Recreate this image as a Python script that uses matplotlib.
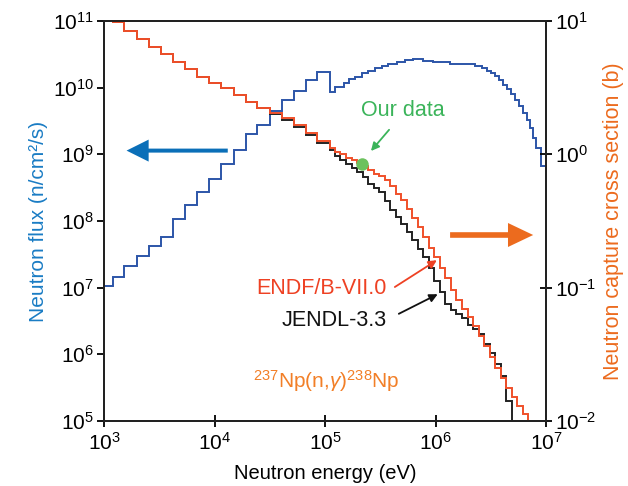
import numpy as np
import matplotlib
matplotlib.use("Agg")
import matplotlib.pyplot as plt
from matplotlib.ticker import LogLocator, NullLocator, FuncFormatter

plt.rcParams['font.family'] = ['Liberation Sans', 'DejaVu Sans']
plt.rcParams['mathtext.fontset'] = 'custom'
plt.rcParams['mathtext.rm'] = 'Liberation Sans'
plt.rcParams['mathtext.it'] = 'Liberation Sans:italic'
plt.rcParams['mathtext.default'] = 'regular'

# bin edges, log10(energy / eV)
log_e_low = [3.000, 3.077, 3.184, 3.296, 3.407, 3.516, 3.624, 3.735, 3.844, 3.953,
             4.063, 4.172, 4.281, 4.389, 4.502, 4.608, 4.715, 4.828, 4.932, 5.045]
log_e_flux_high = [5.090, 5.172, 5.220, 5.271, 5.332, 5.392, 5.452, 5.513, 5.573, 5.649,
                   5.724, 5.799, 5.890, 5.980, 6.041, 6.131, 6.249, 6.357, 6.421, 6.466,
                   6.502, 6.538, 6.575, 6.611, 6.647, 6.683, 6.719, 6.756, 6.792, 6.828,
                   6.855, 6.882, 6.914, 6.955, 7.000]
log_e_xs_high = [5.09, 5.14, 5.19, 5.24, 5.29, 5.34, 5.39, 5.44, 5.49, 5.54,
                 5.59, 5.64, 5.69, 5.74, 5.79, 5.84, 5.89, 5.94, 5.99, 6.04,
                 6.09, 6.14, 6.19, 6.24, 6.29, 6.34, 6.39, 6.44, 6.49, 6.54,
                 6.59, 6.64, 6.69, 6.74, 6.79, 6.84, 6.89, 6.94, 7.00]

# log10 neutron flux (n/cm2/s)
log_flux = [7.018, 7.153, 7.325, 7.475, 7.630, 7.753, 8.023, 8.245, 8.431, 8.633,
            8.855, 9.058, 9.298, 9.440, 9.646, 9.820, 9.955, 10.120, 10.240,
            9.940, 10.015, 10.075, 10.125, 10.165, 10.215, 10.255, 10.290, 10.330, 10.355,
            10.390, 10.415, 10.425, 10.405, 10.380, 10.378, 10.360, 10.348, 10.325, 10.295,
            10.255, 10.220, 10.168, 10.115, 10.040, 9.980, 9.905, 9.815, 9.725, 9.620,
            9.515, 9.395, 9.245, 9.095, 8.825]

# log10 capture cross section (b)
log_endf = [1.06, 0.990, 0.925, 0.863, 0.803, 0.750, 0.694, 0.640, 0.582, 0.533,
            0.494, 0.445, 0.395, 0.350, 0.312, 0.270, 0.220, 0.162, 0.100,
            0.05, 0.02, 0.00, -0.025, -0.045, -0.065, -0.09, -0.12, -0.145, -0.165,
            -0.195, -0.24, -0.30, -0.345, -0.41, -0.475, -0.545, -0.62, -0.70, -0.77,
            -0.85, -0.93, -1.02, -1.09, -1.16, -1.22, -1.29, -1.36, -1.44, -1.52,
            -1.60, -1.68, -1.75, -1.82, -1.89, -1.95, -2.10, -2.2, -2.3]
log_jendl = [1.06, 0.990, 0.925, 0.863, 0.803, 0.750, 0.694, 0.640, 0.582, 0.533,
             0.494, 0.445, 0.395, 0.345, 0.300, 0.2575, 0.203, 0.145, 0.083,
             0.03, -0.01, -0.045, -0.075, -0.105, -0.135, -0.17, -0.22, -0.255, -0.285,
             -0.35, -0.42, -0.47, -0.525, -0.58, -0.645, -0.71, -0.77, -0.85, -0.95,
             -1.03, -1.12, -1.17, -1.20, -1.23, -1.28, -1.31, -1.35, -1.42, -1.49,
             -1.57, -1.66, -1.85, -2.1, -2.2, -2.3, -2.4, -2.5, -2.6]

our_energy = 2.15e5
our_xs = 0.85

flux_edges = 10 ** np.array(log_e_low + log_e_flux_high)
xs_edges = 10 ** np.array(log_e_low + log_e_xs_high)

c_flux = '#2c55a8'
c_flux_txt = '#1a7cc4'
c_endf = '#f0502a'
c_orange = '#ec6b1e'
c_green = '#3bb45a'

fig = plt.figure(figsize=(6.28, 4.86), dpi=100)
ax = fig.add_axes([104 / 628, 1 - 421 / 486, 442 / 628, 400 / 486])
ax2 = ax.twinx()

ax.stairs(10 ** np.array(log_flux), flux_edges, baseline=None, color=c_flux, lw=1.4)
ax2.stairs(10 ** np.array(log_jendl), xs_edges, baseline=None, color='#222222', lw=1.4)
ax2.stairs(10 ** np.array(log_endf), xs_edges, baseline=None, color=c_endf, lw=1.4)
ax2.plot([our_energy], [our_xs], 'o', color='#6cc25e', ms=9, mec='none', zorder=5)

ax.set_xscale('log')
ax.set_yscale('log')
ax2.set_yscale('log')
ax.set_xlim(1e3, 1e7)
ax.set_ylim(1e5, 1e11)
ax2.set_ylim(1e-2, 1e1)


def pow_fmt(v, pos):
    return r'$10^{%d}$' % int(round(np.log10(v)))


for a in (ax, ax2):
    for s in a.spines.values():
        s.set_linewidth(1.4)
        s.set_color('#222222')
ax.xaxis.set_major_locator(LogLocator(base=10, numticks=10))
ax.xaxis.set_minor_locator(NullLocator())
ax.yaxis.set_minor_locator(NullLocator())
ax2.yaxis.set_minor_locator(NullLocator())
ax.xaxis.set_major_formatter(FuncFormatter(pow_fmt))
ax.yaxis.set_major_formatter(FuncFormatter(pow_fmt))
ax2.yaxis.set_major_formatter(FuncFormatter(pow_fmt))
ax.tick_params(axis='x', direction='inout', length=9, width=1.3, labelsize=15, pad=3)
ax.tick_params(axis='y', direction='out', length=5, width=1.3, labelsize=15, pad=2)
ax2.tick_params(axis='y', direction='inout', length=9, width=1.3, labelsize=15, pad=2)

ax.set_xlabel('Neutron energy (eV)', fontsize=14.5, labelpad=8)
ax.set_ylabel('Neutron flux (n/cm²/s)', fontsize=15, color=c_flux_txt, labelpad=4)
ax2.set_ylabel('Neutron capture cross section (b)', fontsize=15.5, color=c_orange,
               rotation=90, labelpad=5)

# direction arrows
ax.arrow(0.280, 0.676, -0.229, 0, transform=ax.transAxes, width=0.010,
         head_width=0.055, head_length=0.05, length_includes_head=True,
         color='#0b6fb8', lw=0)
ax.arrow(0.783, 0.465, 0.188, 0, transform=ax.transAxes, width=0.014,
         head_width=0.06, head_length=0.057, length_includes_head=True,
         color=c_orange, lw=0)

# annotations
arrow_kw = dict(arrowstyle='-|>', lw=1.3, shrinkA=0, shrinkB=0, mutation_scale=12)
ax2.text(0.675, 0.775, 'Our data', transform=ax2.transAxes, fontsize=15.5,
         color=c_green, ha='center', va='center')
ax2.annotate('', xy=(0.604, 0.675), xytext=(0.645, 0.728),
             xycoords='axes fraction', textcoords='axes fraction',
             arrowprops=dict(color=c_green, **arrow_kw))
ax2.text(0.640, 0.330, 'ENDF/B-VII.0', transform=ax2.transAxes, fontsize=15.5,
         color='#ee4123', ha='right', va='center')
ax2.annotate('', xy=(0.753, 0.402), xytext=(0.658, 0.335),
             xycoords='axes fraction', textcoords='axes fraction',
             arrowprops=dict(color='#ee4123', **arrow_kw))
ax2.text(0.640, 0.250, 'JENDL-3.3', transform=ax2.transAxes, fontsize=15.5,
         color='#111111', ha='right', va='center')
ax2.annotate('', xy=(0.755, 0.317), xytext=(0.667, 0.268),
             xycoords='axes fraction', textcoords='axes fraction',
             arrowprops=dict(color='#111111', **arrow_kw))
ax2.text(0.336, 0.100, r'$^{237}$Np(n,$\mathit{\gamma}$)$^{238}$Np',
         transform=ax2.transAxes, fontsize=15, color='#f27f27',
         ha='left', va='center')

fig.savefig('out.png', dpi=100)
